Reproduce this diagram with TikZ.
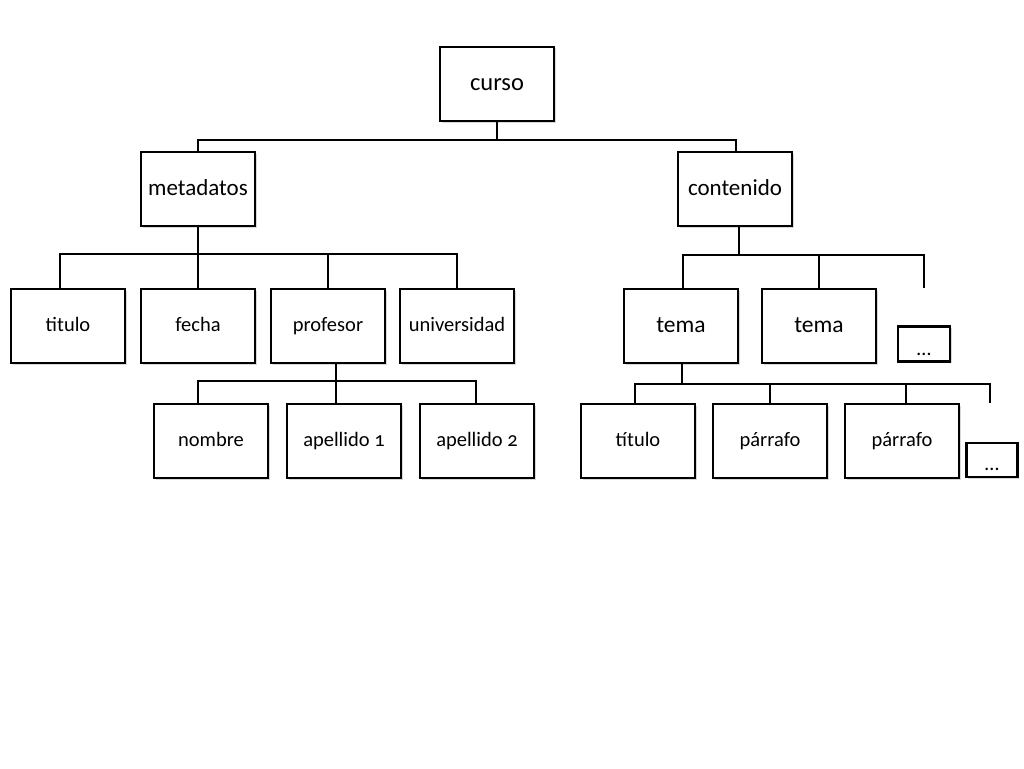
\documentclass[tikz,border=0pt]{standalone}
\usepackage{fontspec}
\setmainfont{Carlito}[Numbers=OldStyle]
\usetikzlibrary{shadows}

\begin{document}
\begin{tikzpicture}[x=1pt,y=1pt,
    box/.style={draw, line width=2.6pt, fill=white, minimum width=114pt, minimum height=74pt,
      text height=15pt, text depth=4pt,
      font=\fontsize{20.5}{23}\selectfont, drop shadow={shadow xshift=1.5pt, shadow yshift=-1.5pt, opacity=0.3}},
    bigbox/.style={box, text height=17pt, font=\fontsize{23}{26}\selectfont},
    temabox/.style={box, text height=17pt, font=\fontsize{23.5}{26}\selectfont},
    dotsbox/.style={box, minimum width=52pt, minimum height=35pt, text height=22pt, text depth=0pt, inner sep=0pt},
    link/.style={line width=2.2pt}]
    \path[use as bounding box, fill=white] (0,0) rectangle (1024,-768); % page

    \node[bigbox, font=\fontsize{24.5}{27}\selectfont] (curso) at (497,-84) {curso}; % root
    \node[bigbox] (metadatos) at (198,-189) {metadatos};
    \node[bigbox] (contenido) at (735,-189) {contenido};

    \node[box] (titulo) at (68,-326) {titulo}; % metadatos row
    \node[box] (fecha) at (198,-326) {fecha};
    \node[box] (profesor) at (328,-326) {profesor};
    \node[box] (universidad) at (457,-326) {universidad};

    \node[box] (nombre) at (211,-441) {nombre}; % profesor row
    \node[box] (apellido1) at (344,-441) {apellido 1};
    \node[box] (apellido2) at (477,-441) {apellido 2};

    \node[temabox] (tema1) at (681,-326) {tema}; % contenido row
    \node[temabox] (tema2) at (819,-326) {tema};
    \node[dotsbox] (dots1) at (924,-344) {\ldots};

    \node[box] (titulo2) at (638,-441) {título}; % tema row
    \node[box] (parrafo1) at (770,-441) {párrafo};
    \node[box] (parrafo2) at (902,-441) {párrafo};
    \node[dotsbox, minimum width=51pt, minimum height=34pt, text height=20pt] (dots2) at (992,-460) {\ldots};

    \coordinate (c1) at (497,-140); % curso branch
    \draw[link] (curso.south) -- (c1);
    \draw[link] (metadatos.north) |- (c1) -| ([xshift=1pt]contenido.north);

    \coordinate (m1) at (198,-254); % metadatos branch
    \draw[link] (metadatos.south) -- (fecha.north);
    \draw[link] ([xshift=-8pt]titulo.north) |- (m1) -| (universidad.north);
    \draw[link] (profesor.north) -- (profesor.north |- m1);

    \coordinate (p1) at (336,-381); % profesor branch
    \draw[link] ([xshift=8pt]profesor.south) -- ([xshift=-8pt]apellido1.north);
    \draw[link] ([xshift=-13pt]nombre.north) |- (p1) -| ([xshift=-1pt]apellido2.north);

    \coordinate (k1) at (739,-255); % contenido branch
    \coordinate (k2) at (924,-288);
    \draw[link] ([xshift=4pt]contenido.south) -- (k1);
    \draw[link] ([xshift=2pt]tema1.north) |- (k1) -| (k2);
    \draw[link] (tema2.north) -- (tema2.north |- k1);

    \coordinate (t1) at (682,-384); % tema branch
    \coordinate (t2) at (990,-403);
    \draw[link] ([xshift=1pt]tema1.south) -- (t1);
    \draw[link] ([xshift=-3pt]titulo2.north) |- (t1) -| (t2);
    \draw[link] (parrafo1.north) -- (parrafo1.north |- t1);
    \draw[link] ([xshift=4pt]parrafo2.north) -- ([xshift=4pt]parrafo2.north |- t1);
  \end{tikzpicture}
\end{document}
